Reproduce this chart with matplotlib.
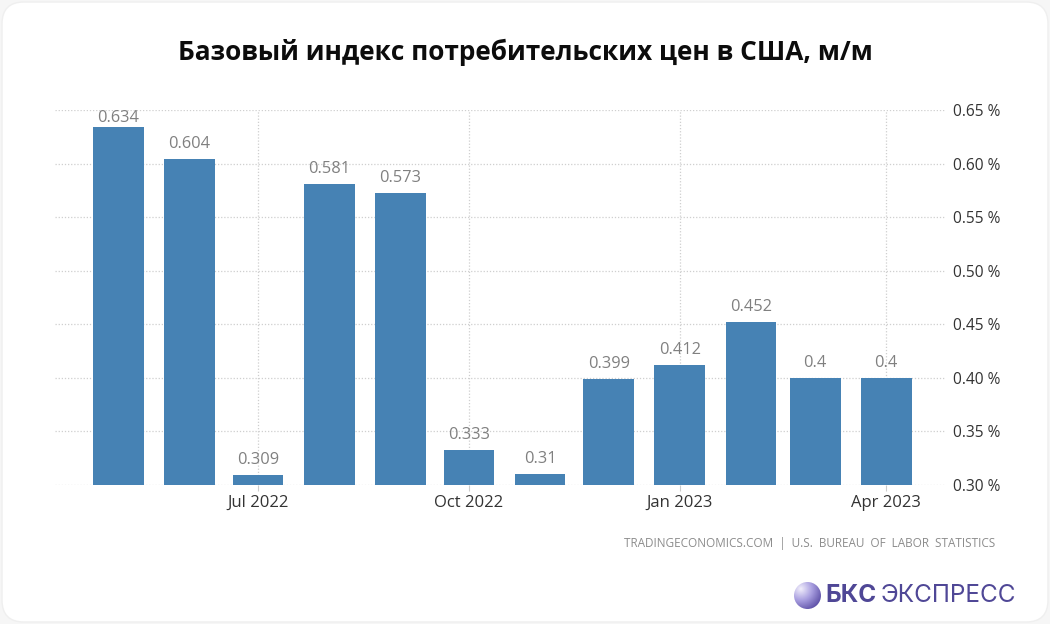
import datetime as dt
import numpy as np
import matplotlib
matplotlib.use('Agg')
import matplotlib.pyplot as plt
import matplotlib.dates as mdates
from matplotlib.colors import LinearSegmentedColormap
from matplotlib.patches import FancyBboxPatch, Circle

months = [dt.date(2022, 5, 1), dt.date(2022, 6, 1), dt.date(2022, 7, 1), dt.date(2022, 8, 1),
          dt.date(2022, 9, 1), dt.date(2022, 10, 1), dt.date(2022, 11, 1), dt.date(2022, 12, 1),
          dt.date(2023, 1, 1), dt.date(2023, 2, 1), dt.date(2023, 3, 1), dt.date(2023, 4, 1)]
values = [0.634, 0.604, 0.309, 0.581, 0.573, 0.333, 0.31, 0.399, 0.412, 0.452, 0.4, 0.4]
value_labels = ['0.634', '0.604', '0.309', '0.581', '0.573', '0.333', '0.31', '0.399', '0.412', '0.452', '0.4', '0.4']
y_ticks = [0.30, 0.35, 0.40, 0.45, 0.50, 0.55, 0.60, 0.65]
x_ticks = [dt.date(2022, 7, 1), dt.date(2022, 10, 1), dt.date(2023, 1, 1), dt.date(2023, 4, 1)]
x_tick_labels = ['Jul 2022', 'Oct 2022', 'Jan 2023', 'Apr 2023']

W, H = 1050, 624
plt.rcParams['font.family'] = ['Open Sans', 'DejaVu Sans']

fig = plt.figure(figsize=(W / 100, H / 100), dpi=100, facecolor='#f6f6f6')

# white card behind everything
card = FancyBboxPatch((2, 2), W - 4, H - 4, boxstyle='round,pad=0,rounding_size=22',
                      transform=None, fc='white', ec='#efefef', lw=1, zorder=0)
fig.add_artist(card)

# axes box in pixels: left 55, right 945, y 0.30 at 485, y 0.65 at 110
ax = fig.add_axes([55 / W, (H - 485) / H, 890 / W, 375 / H])
ax.patch.set_alpha(0)
px_per_day = 2.293
x0 = mdates.date2num(dt.date(2022, 7, 1))
ax.set_xlim(x0 - (258 - 55) / px_per_day, x0 + (945 - 258) / px_per_day)
ax.set_ylim(0.30, 0.65)

ax.bar(months, values, width=22.2, color='#4682b4', zorder=3)

ax.set_yticks(y_ticks)
ax.set_yticklabels([f'{v:.2f} %' for v in y_ticks])
ax.yaxis.tick_right()
ax.set_xticks(x_ticks)
ax.set_xticklabels(x_tick_labels)
ax.tick_params(axis='y', length=0, pad=6, labelsize=11.2, labelcolor='#333333')
ax.tick_params(axis='x', length=4, width=0.8, color='#cccccc', pad=3, labelsize=12, labelcolor='#333333')
ax.grid(True, color='#cfcfcf', linestyle=(0, (1, 1.5)), linewidth=0.9, zorder=0)
ax.set_axisbelow(True)
for s in ax.spines.values():
    s.set_visible(False)

for m, v, lab in zip(months, values, value_labels):
    # tallest label gets pushed down so it stays inside the plot
    off = 0.8 if v > 0.62 else 5
    ax.annotate(lab, (m, v), xytext=(0, off), textcoords='offset points', ha='center', va='bottom',
                fontsize=11.8, color='#808080', zorder=4, annotation_clip=False)

fig.text(525 / W, 1 - 52.5 / H, 'Базовый индекс потребительских цен в США, м/м', ha='center', va='center',
         fontsize=18.9, fontweight='bold', color='#0c0c0c')
fig.text(995 / W, 1 - 544 / H, 'TRADINGECONOMICS.COM  |  U.S.  BUREAU  OF  LABOR  STATISTICS', ha='right', va='center',
         fontsize=8.5, color='#8c8c8c')

# logo
logo = fig.add_axes([794 / W, 1 - 609 / H, 27 / W, 27 / H])
logo.set_axis_off()
yy, xx = np.mgrid[-1:1:100j, -1:1:100j]
shade = np.clip(np.hypot(xx + 0.5, yy - 0.5) / 1.7, 0, 1)
cmap = LinearSegmentedColormap.from_list('logo', ['#f1eefb', '#a99fe0', '#5f52a8'])
im = logo.imshow(shade, cmap=cmap, extent=(-1, 1, -1, 1), origin='lower')
im.set_clip_path(Circle((0, 0), 1, transform=logo.transData))
fig.text(825 / W, 1 - 595 / H, 'БКС', ha='left', va='center', fontsize=17.5, fontweight='bold',
         color='#4f4796', family=['Inter', 'DejaVu Sans'])
fig.text(881 / W, 1 - 595 / H, 'ЭКСПРЕСС', ha='left', va='center', fontsize=17.5, color='#4f4796',
         family=['Inter', 'DejaVu Sans'])

fig.savefig('out.png', dpi=100, facecolor=fig.get_facecolor())
